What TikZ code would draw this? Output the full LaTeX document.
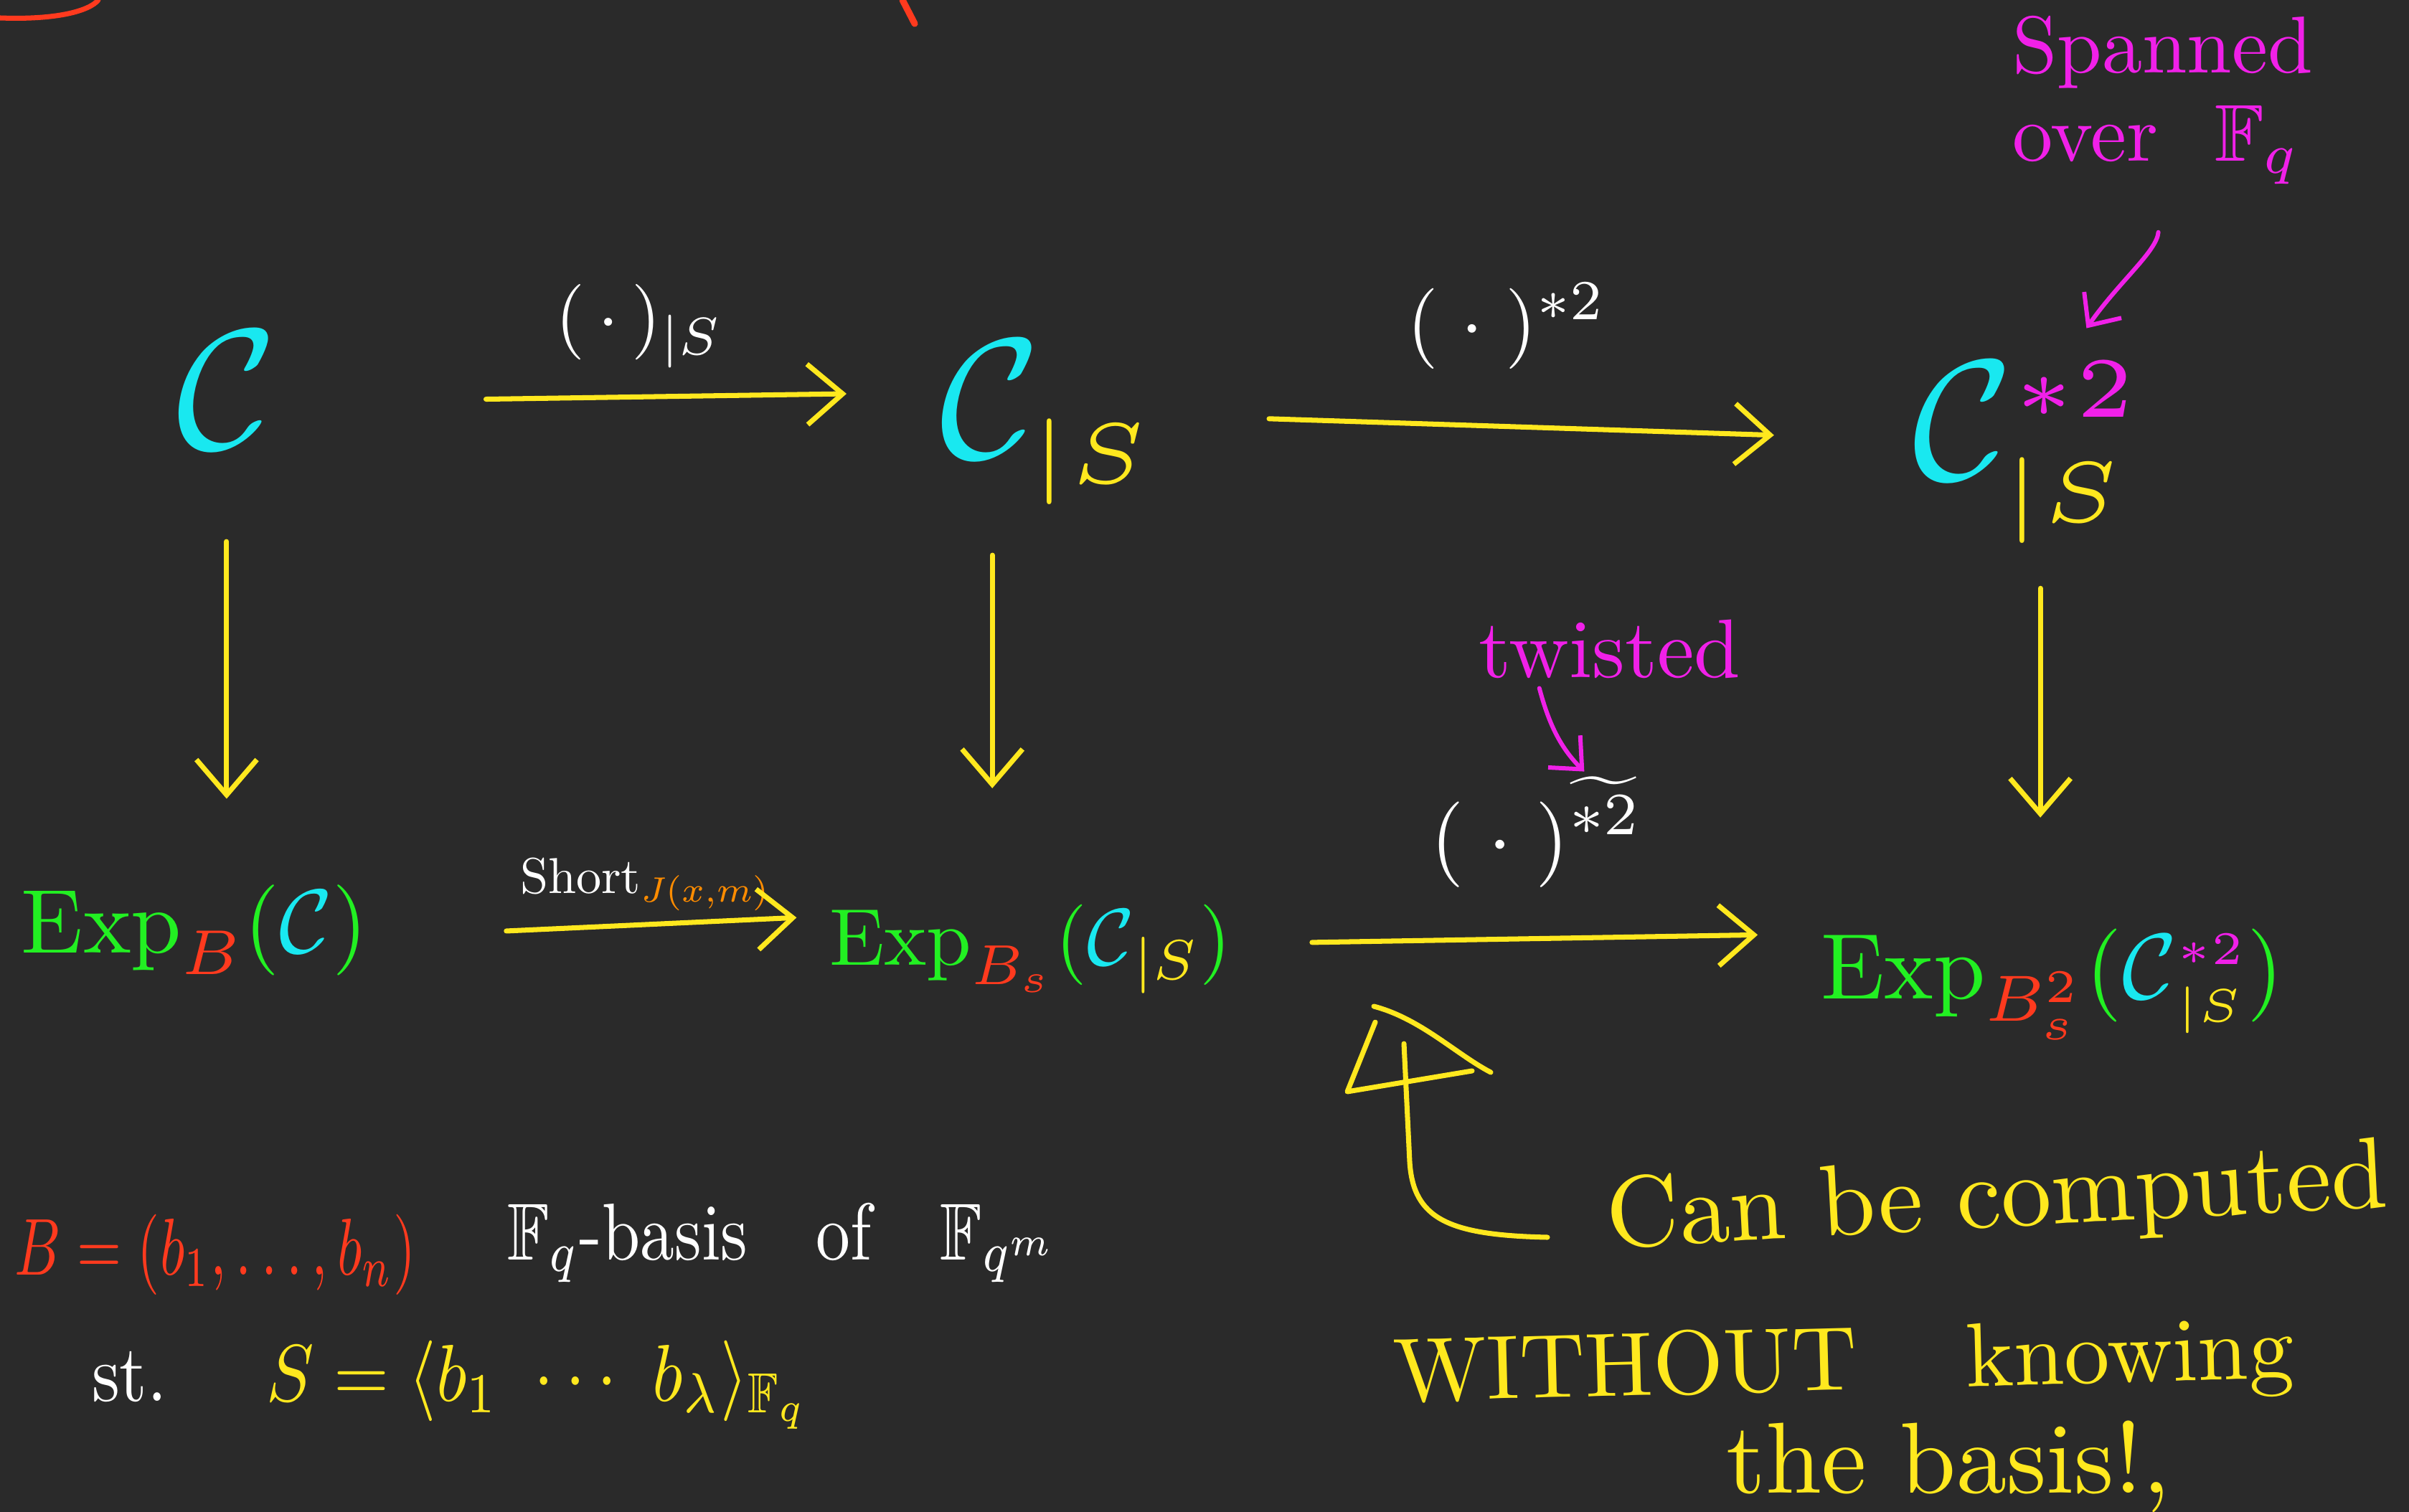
\documentclass[tikz,border=0pt]{standalone}
\usepackage{amsmath,amssymb}
\usepackage{xcolor}
\usepackage{tikz}
\usetikzlibrary{arrows.meta, positioning, calc}
\definecolor{boardbg}{HTML}{2A2A2A}
\definecolor{inkcyan}{HTML}{19E8F0}
\definecolor{inkyellow}{HTML}{FFE81E}
\definecolor{inkgreen}{HTML}{22F022}
\definecolor{inkred}{HTML}{FF3A1E}
\definecolor{inkmagenta}{HTML}{F020E8}
\definecolor{inkorange}{HTML}{FF8C00}

\begin{document}
\begin{tikzpicture}[
    ink/.style={inner sep=0pt, outer sep=0pt, font=\normalsize},
    inksize/.style={scale=#1/10},
    bigcal/.style={ink, anchor=base west, text=inkcyan, inksize=68},
    explbl/.style={ink, anchor=base west, text=inkgreen, inksize=#1},
    maplbl/.style={ink, text=white, inksize=#1},
    maplbl/.default=32,
    note/.style={ink, text=#1},
    hand/.style={draw=inkyellow, line width=2pt, line cap=round,
                 -{Straight Barb[length=14pt, width=24pt, line width=2pt]}},
    pinkarr/.style={draw=inkmagenta, line width=1.7pt, line cap=round,
                    -{Straight Barb[length=10pt, width=18pt, line width=1.7pt]}},
    sketch/.style={draw=#1, line width=2pt, line cap=round, line join=round},
]
    % ── Board ──
    \path[use as bounding box, fill=boardbg] (0,0) rectangle (33.58,-21.08);

    % leftovers of earlier strokes at the top edge
    \draw[sketch=inkred] (0,-0.25) .. controls (0.8,-0.28) and (1.25,-0.15) .. (1.37,0);
    \draw[sketch=inkred, line width=2.6pt] (12.58,0) -- (12.75,-0.33);

    % ── TOP ROW: codes ──
    \node[bigcal] (c0) at (2.46,-6.25)  {$\mathcal{C}$};
    \node[bigcal] (c1) at (13.10,-6.38) {$\mathcal{C}_{\scriptscriptstyle\color{inkyellow}|S}$};
    \node[bigcal] (c2) at (26.66,-6.68)
        {$\mathcal{C}^{\textcolor{inkmagenta}{\scriptscriptstyle\ast 2}}_{\textcolor{inkyellow}{\scriptscriptstyle|S}}$};

    % ── BOTTOM ROW: expansions ──
    \node[explbl=36] (e0) at (0.30,-13.28)
        {$\mathrm{Exp}_{\color{inkred}B}(\textcolor{inkcyan}{\mathcal{C}})$};
    \node[explbl=32] (e1) at (11.56,-13.45)
        {$\mathrm{Exp}_{\color{inkred}B_s}(\textcolor{inkcyan}{\mathcal{C}}_{\color{inkyellow}|S})$};
    \node[explbl=37] (e2) at (25.38,-13.92)
        {$\mathrm{Exp}_{\color{inkred}B_s^2}(\textcolor{inkcyan}{\mathcal{C}}^{\textcolor{inkmagenta}{\scriptscriptstyle\ast 2}}_{\textcolor{inkyellow}{\scriptscriptstyle|S}})$};

    % ── Map labels ──
    \node[maplbl=30] (l1) at (8.91,-4.55) {$(\,\cdot\,)_{|S}$};
    \node[maplbl] (l2) at (21.00,-4.55) {$(\;\cdot\;)^{\ast 2}$};
    \node[maplbl=20, anchor=base west] (l3) at (7.25,-12.45)
        {$\mathrm{Short}_{\color{inkorange}J(x,m)}$};
    \node[maplbl=34] (l4) at (21.42,-11.60)
        {$(\;\cdot\;)^{\widetilde{\ast 2}}$};

    % Arrows: top row
    \draw[hand, shorten <=83pt, shorten >=37pt] ([yshift=-5pt]c0.east) -- ([yshift=12pt]c1.west);
    \draw[hand, shorten <=45pt, shorten >=55pt] ([yshift=3pt]c1.east) -- ([yshift=5pt]c2.west);

    % Arrows: down
    \draw[hand, shorten <=37pt, shorten >=34pt] (c0.south) -- (c0.south |- e0.north);
    \draw[hand, shorten <=20pt, shorten >=46pt] ([xshift=-22pt]c1.south) -- ([xshift=-22pt]c1.south |- e1.north);
    \draw[hand, shorten <=18pt, shorten >=44pt] ([xshift=5pt]c2.south) -- ([xshift=5pt]c2.south |- e2.north);

    % Arrows: bottom row
    \draw[hand, shorten <=55pt, shorten >=13pt] ([yshift=-3pt]e0.east) -- ([yshift=13pt]e1.west);
    \draw[hand, shorten <=32pt, shorten >=25pt] ([yshift=2pt]e1.east) -- ([yshift=20pt]e2.west);

    % ── Magenta remarks ──
    \node[note=inkmagenta, inksize=32, anchor=north west, align=left] (span) at (28.05,-0.22)
        {Spanned\\[-1pt]over\hspace{0.7em}$\mathbb{F}_q$};
    \draw[pinkarr, shorten <=19pt, shorten >=4pt] (span.south) to[out=-95, in=55] ([xshift=21pt, yshift=10pt]c2.north);

    \node[note=inkmagenta, inksize=33] (twist) at (22.44,-9.05) {twisted};
    \draw[pinkarr, shorten <=4pt, shorten >=3pt] ([xshift=-29pt]twist.south) to[out=-75, in=135] ([xshift=21pt]l4.north);

    % ── Basis notes ──
    \node[note=inkred, anchor=base west, inksize=32, xscale=0.71] (basis) at (0.21,-17.77)
        {$B=(b_1,\dots,b_n)$};
    \node[note=white, anchor=base west, inksize=32, xscale=0.85] (basisof) at (7.07,-17.56)
        {$\mathbb{F}_q$-basis\quad of\quad $\mathbb{F}_{q^m}$};
    \node[note=white, anchor=base west, inksize=32, xscale=0.88] (st) at (1.28,-19.53)
        {st.\hspace{1.4em}\textcolor{inkyellow}{$S=\langle b_1\ \cdots\ b_\lambda\rangle_{\mathbb{F}_q}$}};

    % ── Yellow remark ──
    \draw[sketch=inkyellow] (19.17,-14.25) -- (18.78,-15.22) -- (20.52,-14.93);
    \draw[sketch=inkyellow] (19.15,-14.03) .. controls (19.8,-14.2) and (20.3,-14.7) .. (20.78,-14.95);
    \draw[sketch=inkyellow] (19.57,-14.55) -- (19.65,-16.2) .. controls (19.7,-17.0) and (20.2,-17.22) .. (21.57,-17.25);

    \node[note=inkyellow, inksize=40, rotate=3] (comp) at (27.84,-16.75) {Can be computed};
    \node[note=inkyellow, inksize=36, rotate=1.5] (without) at (25.70,-19.06) {WITHOUT\hspace{1.2em}knowing};
    \node[note=inkyellow, inksize=40] (thebasis) at (27.16,-20.45) {the basis!,};
\end{tikzpicture}
\end{document}
